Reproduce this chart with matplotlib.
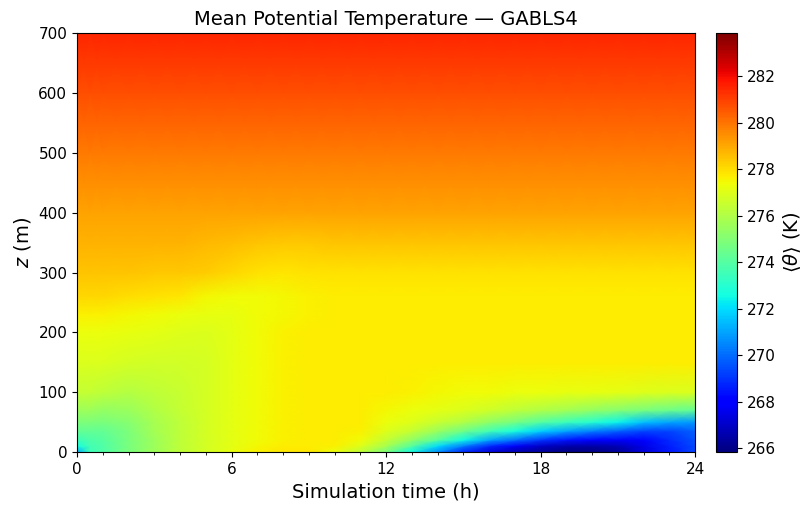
import numpy as np
import matplotlib
matplotlib.use("Agg")
import matplotlib.pyplot as plt
from matplotlib.ticker import MultipleLocator

# simulation time (h) and height (m) of the profiles
times = [0, 0.5, 1, 2, 3, 4, 5, 6, 7, 8, 9, 10, 11, 12,
         13, 14, 15, 16, 17, 18, 19, 20, 21, 22, 23, 24]
heights = [0, 10, 20, 35, 50, 70, 100, 150, 200, 230, 260, 300, 350, 400, 500, 600, 700]

# upper part of the profile (z >= 400 m), roughly steady in time
theta_top = [279.1, 279.9, 280.7, 281.5]

# mean potential temperature (K), one profile per time, z = 0 ... 350 m
theta_low = [
    [271.0, 272.6, 273.5, 274.3, 274.9, 275.6, 276.4, 276.9, 277.3, 277.6, 278.1, 278.5, 278.8],
    [273.5, 273.6, 273.8, 274.3, 274.9, 275.6, 276.4, 276.9, 277.3, 277.6, 278.1, 278.5, 278.8],
    [273.9, 273.9, 274.0, 274.3, 274.8, 275.4, 276.3, 276.9, 277.3, 277.6, 278.1, 278.5, 278.8],
    [274.8, 274.8, 274.8, 274.9, 275.1, 275.5, 276.1, 276.8, 277.2, 277.5, 278.0, 278.5, 278.8],
    [275.6, 275.6, 275.6, 275.7, 275.8, 276.0, 276.3, 276.7, 277.1, 277.4, 277.9, 278.4, 278.8],
    [276.3, 276.3, 276.3, 276.3, 276.3, 276.4, 276.5, 276.7, 277.0, 277.3, 277.8, 278.4, 278.8],
    [276.8, 276.8, 276.8, 276.8, 276.8, 276.8, 276.8, 276.8, 276.9, 277.2, 277.5, 278.3, 278.7],
    [277.2, 277.1, 277.1, 277.1, 277.1, 277.1, 277.1, 277.1, 277.1, 277.2, 277.4, 278.1, 278.6],
    [277.6, 277.5, 277.4, 277.4, 277.4, 277.4, 277.4, 277.4, 277.4, 277.4, 277.4, 277.9, 278.5],
    [277.8, 277.7, 277.6, 277.6, 277.6, 277.6, 277.6, 277.6, 277.6, 277.5, 277.5, 277.8, 278.4],
    [277.8, 277.7, 277.7, 277.7, 277.7, 277.7, 277.7, 277.7, 277.7, 277.6, 277.6, 277.9, 278.4],
    [277.3, 277.6, 277.7, 277.7, 277.7, 277.7, 277.7, 277.7, 277.7, 277.7, 277.7, 277.9, 278.5],
    [276.3, 277.0, 277.4, 277.6, 277.7, 277.7, 277.7, 277.7, 277.7, 277.7, 277.7, 277.9, 278.5],
    [274.8, 275.8, 276.4, 277.0, 277.3, 277.5, 277.7, 277.7, 277.7, 277.7, 277.7, 277.9, 278.5],
    [272.5, 274.0, 275.3, 276.4, 277.0, 277.3, 277.6, 277.7, 277.7, 277.7, 277.7, 277.9, 278.5],
    [270.6, 272.0, 274.0, 275.5, 276.5, 277.1, 277.5, 277.7, 277.7, 277.7, 277.7, 277.9, 278.5],
    [268.7, 270.3, 272.5, 274.6, 276.0, 276.9, 277.4, 277.7, 277.7, 277.7, 277.7, 277.9, 278.5],
    [267.3, 268.8, 271.0, 273.6, 275.3, 276.6, 277.4, 277.7, 277.7, 277.7, 277.7, 277.9, 278.5],
    [266.6, 267.8, 270.0, 272.7, 274.7, 276.3, 277.3, 277.7, 277.7, 277.7, 277.7, 277.9, 278.5],
    [266.2, 267.0, 269.0, 271.8, 274.0, 276.0, 277.3, 277.7, 277.7, 277.7, 277.7, 277.9, 278.5],
    [265.9, 266.6, 268.4, 271.0, 273.5, 275.7, 277.2, 277.7, 277.7, 277.7, 277.7, 277.9, 278.5],
    [265.9, 266.5, 268.0, 270.4, 273.0, 275.4, 277.2, 277.7, 277.7, 277.7, 277.7, 277.9, 278.5],
    [266.2, 266.7, 267.8, 269.8, 272.4, 275.1, 277.1, 277.7, 277.7, 277.7, 277.7, 277.9, 278.5],
    [267.3, 267.5, 268.0, 269.3, 271.5, 274.8, 277.0, 277.7, 277.7, 277.7, 277.7, 277.9, 278.5],
    [268.5, 268.6, 268.8, 269.3, 271.0, 274.5, 276.9, 277.7, 277.7, 277.7, 277.7, 277.9, 278.5],
    [269.3, 269.4, 269.5, 269.8, 270.8, 274.3, 276.9, 277.7, 277.7, 277.7, 277.7, 277.9, 278.5],
]

theta_min, theta_max = 265.83, 283.85
cbar_ticks = [266, 268, 270, 272, 274, 276, 278, 280, 282]
time_ticks = [0, 6, 12, 18, 24]

theta = np.array([row + theta_top for row in theta_low]).T  # (height, time)

fig = plt.figure(figsize=(8.11, 5.11), dpi=100)
ax = fig.add_axes([0.095, 0.1155, 0.762, 0.8195])
cax = fig.add_axes([0.883, 0.1155, 0.026, 0.8195])

mesh = ax.pcolormesh(times, heights, theta, cmap="jet", shading="gouraud",
                     vmin=theta_min, vmax=theta_max)

ax.set_xlim(0, 24)
ax.set_ylim(0, 700)
ax.set_xticks(time_ticks)
ax.xaxis.set_minor_locator(MultipleLocator(1))
ax.tick_params(labelsize=11)
ax.set_xlabel("Simulation time (h)", fontsize=14)
ax.set_ylabel("$z$ (m)", fontsize=14)
ax.set_title("Mean Potential Temperature — GABLS4", fontsize=14)

cb = fig.colorbar(mesh, cax=cax)
cb.set_ticks(cbar_ticks)
cb.ax.tick_params(labelsize=11)
cb.set_label(r"$\langle\theta\rangle$ (K)", fontsize=14)

fig.savefig("out.png", dpi=100)
